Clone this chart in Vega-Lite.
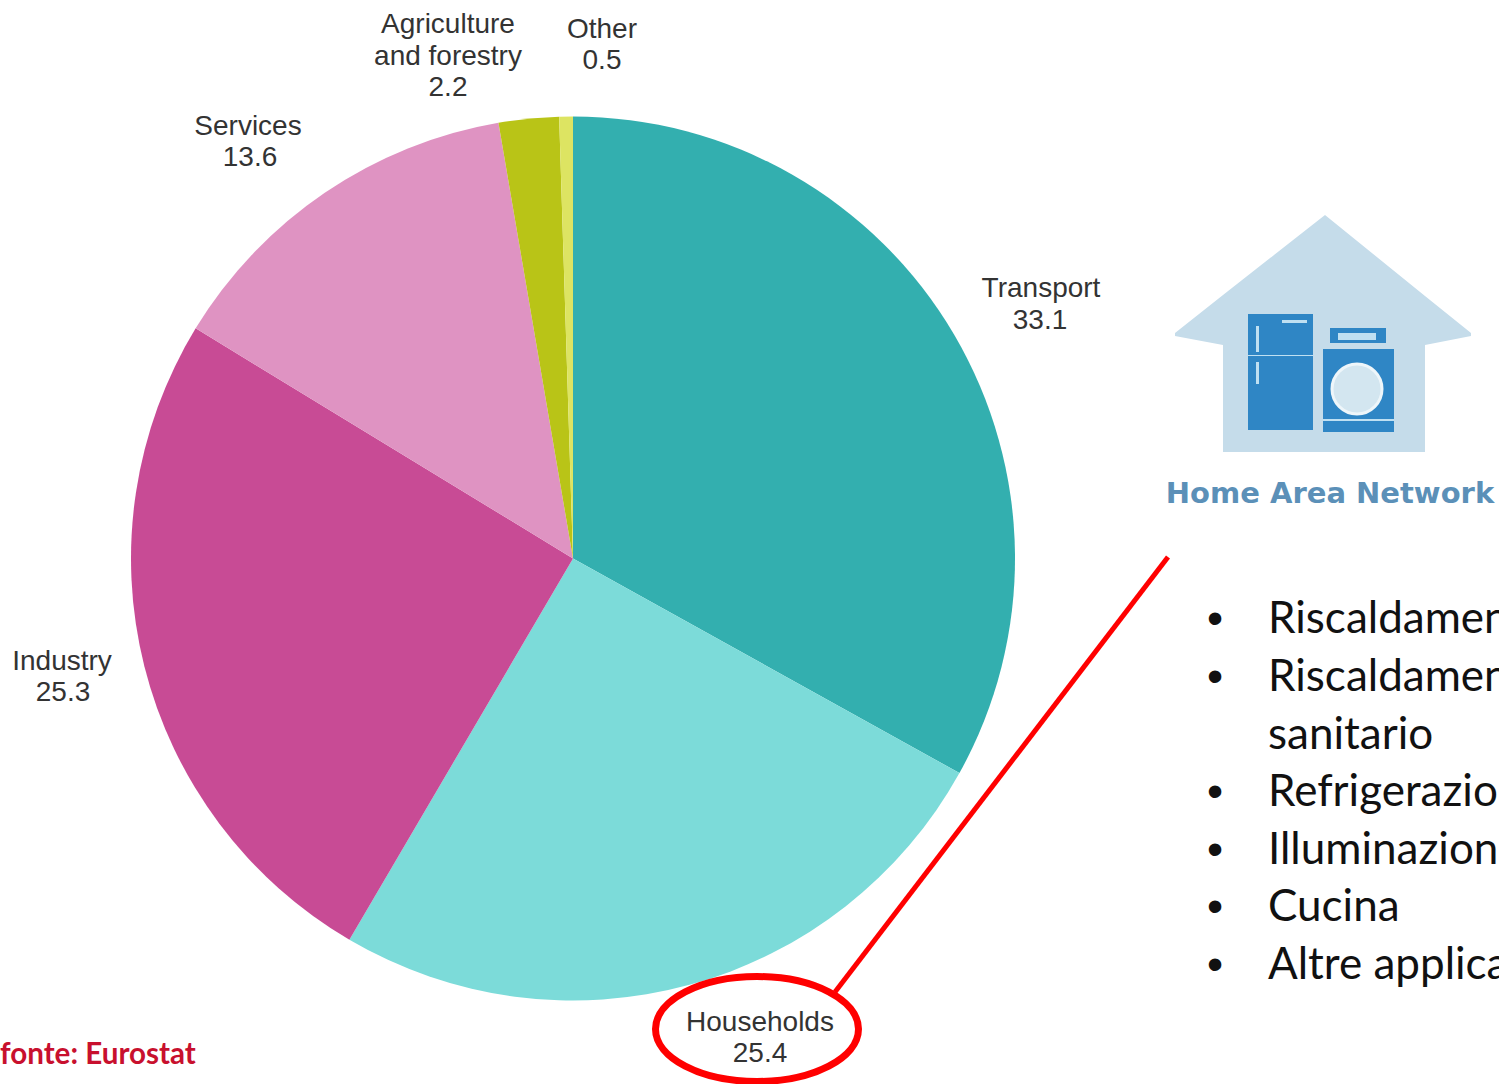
{
"$schema":"https://vega.github.io/schema/vega-lite/v6.json",
"width":1499,"height":1084,"padding":0,"autosize":{"type":"none"},"background":"white",
"config":{"view":{"stroke":null}},
"datasets":{
"shares":[
{"sector":"Transport","share":33.1,"rank":1},
{"sector":"Households","share":25.4,"rank":2},
{"sector":"Industry","share":25.3,"rank":3},
{"sector":"Services","share":13.6,"rank":4},
{"sector":"Agriculture and forestry","share":2.2,"rank":5},
{"sector":"Other","share":0.5,"rank":6}],
"labels":[
{"t":"Agriculture","x":448,"y":25},{"t":"and forestry","x":448,"y":57},{"t":"2.2","x":448,"y":88},
{"t":"Other","x":602,"y":30},{"t":"0.5","x":602,"y":61},
{"t":"Services","x":248,"y":127},{"t":"13.6","x":250,"y":158},
{"t":"Transport","x":1041,"y":289},{"t":"33.1","x":1040,"y":321},
{"t":"Industry","x":62,"y":662},{"t":"25.3","x":63,"y":693},
{"t":"Households","x":760,"y":1023},{"t":"25.4","x":760,"y":1054}],
"bullets":[
{"t":"Riscaldamento ambienti","x":1268,"y":620,"b":true},
{"t":"Riscaldamento dell'acqua","x":1268,"y":678,"b":true},
{"t":"sanitario","x":1268,"y":736,"b":false},
{"t":"Refrigerazione","x":1268,"y":793,"b":true},
{"t":"Illuminazione","x":1268,"y":851,"b":true},
{"t":"Cucina","x":1268,"y":908,"b":true},
{"t":"Altre applicazioni","x":1268,"y":966,"b":true}],
"roof":[{"x":1175,"y":333,"y2":336},{"x":1223,"y":295,"y2":345},{"x":1325,"y":215,"y2":345},{"x":1425,"y":296,"y2":345},{"x":1471,"y":333,"y2":336}],
"body":[{"x":1223,"x2":1425,"y":340,"y2":452}],
"appliance":[{"x":1248,"x2":1313,"y":314,"y2":430},{"x":1323,"x2":1394,"y":349,"y2":432},{"x":1330,"x2":1386,"y":328,"y2":343}],
"detail":[{"x":1256,"x2":1259,"y":326,"y2":352},{"x":1256,"x2":1259,"y":362,"y2":384},{"x":1282,"x2":1307,"y":320,"y2":323},{"x":1248,"x2":1313,"y":355,"y2":356},{"x":1323,"x2":1394,"y":419,"y2":421},{"x":1338,"x2":1376,"y":333,"y2":340}]
},
"layer":[
{"data":{"name":"shares"},"mark":{"type":"arc","outerRadius":442},
"encoding":{
"x":{"datum":573,"type":"quantitative","scale":{"domain":[0,1499],"range":[0,1499]},"axis":null},
"y":{"datum":558.5,"type":"quantitative","scale":{"domain":[0,1084],"range":[0,1084]},"axis":null},
"theta":{"field":"share","type":"quantitative","stack":true},
"order":{"field":"rank","type":"quantitative"},
"color":{"field":"sector","type":"nominal","legend":null,"scale":{"domain":["Transport","Households","Industry","Services","Agriculture and forestry","Other"],"range":["#33afaf","#7cdbd9","#c84b95","#df93c2","#b9c417","#dde462"]}}}},
{"encoding":{
"x":{"field":"x","type":"quantitative","scale":{"domain":[0,1499],"range":[0,1499]},"axis":null},
"y":{"field":"y","type":"quantitative","scale":{"domain":[0,1084],"range":[0,1084]},"axis":null}
},"layer":[
{"data":{"name":"labels"},"mark":{"type":"text","font":"Liberation Sans","fontSize":28,"align":"center","baseline":"middle","color":"#333333"},"encoding":{"text":{"field":"t"}}},
{"data":{"name":"roof"},"mark":{"type":"area","color":"#c5dcea"},"encoding":{"y2":{"field":"y2"}}},
{"data":{"name":"body"},"mark":{"type":"rect","color":"#c5dcea"},"encoding":{"x2":{"field":"x2"},"y2":{"field":"y2"}}},
{"data":{"name":"appliance"},"mark":{"type":"rect","color":"#2f86c5"},"encoding":{"x2":{"field":"x2"},"y2":{"field":"y2"}}},
{"data":{"name":"detail"},"mark":{"type":"rect","color":"#bfe0f2"},"encoding":{"x2":{"field":"x2"},"y2":{"field":"y2"}}},
{"data":{"values":[{"x":1357,"y":389}]},"mark":{"type":"point","filled":true,"opacity":1,"size":2500,"color":"#d3e6f0","stroke":"#eef6fa","strokeWidth":3}},
{"data":{"values":[{"t":"Home Area Network","x":1330,"y":494}]},"mark":{"type":"text","font":"DejaVu Sans","fontWeight":"bold","fontSize":29,"align":"center","baseline":"middle","color":"#5b90b8"},"encoding":{"text":{"field":"t"}}},
{"data":{"values":[{"x":1168,"y":557},{"x":835,"y":992}]},"mark":{"type":"line","color":"#ff0000","strokeWidth":5},"encoding":{"order":{"field":"x"}}},
{"data":{"values":[{"x":757,"y":1029}]},"mark":{"type":"point","filled":false,"opacity":1,"shape":"M-1,0A1,0.517,0,1,1,1,0A1,0.517,0,1,1,-1,0Z","size":41209,"color":"#ff0000","strokeWidth":7}},
{"data":{"name":"bullets"},"mark":{"type":"text","font":"Lato","fontSize":44,"align":"left","baseline":"middle","color":"#111111"},"encoding":{"text":{"field":"t"}}},
{"data":{"name":"bullets"},"transform":[{"filter":"datum.b"}],"mark":{"type":"text","font":"Liberation Sans","fontSize":46,"align":"center","baseline":"middle","color":"#111111","dx":-53},"encoding":{"text":{"value":"•"}}},
{"data":{"values":[{"t":"fonte: Eurostat","x":0,"y":1055}]},"mark":{"type":"text","font":"Lato","fontWeight":"bold","fontSize":29.6,"align":"left","baseline":"middle","color":"#c8102e"},"encoding":{"text":{"field":"t"}}}
]}
]
}
